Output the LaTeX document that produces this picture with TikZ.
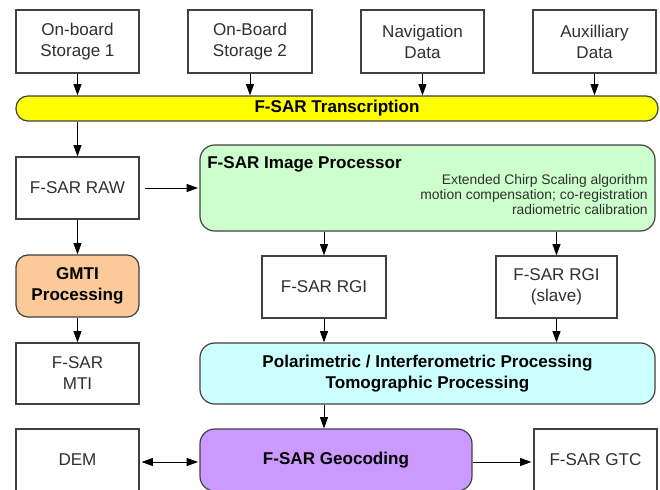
\documentclass[tikz,border=0pt]{standalone}
\usepackage{fontspec}
\setmainfont{Liberation Sans}
\usetikzlibrary{arrows.meta,calc}
\definecolor{bordc}{HTML}{404040}
\definecolor{textc}{HTML}{303030}
\definecolor{yelc}{HTML}{FFFF00}
\definecolor{grnc}{HTML}{CCFFCC}
\definecolor{orgc}{HTML}{FBCA98}
\definecolor{cync}{HTML}{CCFFFF}
\definecolor{purc}{HTML}{CC99FF}
\newcommand\fmain{\fontsize{12.8}{15.75}\selectfont}
\newcommand\fsmall{\fontsize{10.4}{11.25}\selectfont}
\begin{document}
\begin{tikzpicture}[x=0.75pt,y=-0.75pt,
  base/.style={draw=bordc, line width=0.9pt, inner sep=0pt, align=center, font=\fmain, text=textc},
  sz/.style 2 args={minimum width=#1*0.75pt, minimum height=#2*0.75pt},
  plain/.style={base, fill=white},
  boldtxt/.style={font=\fmain\bfseries, text=black},
  tip/.tip={Triangle[length=8.5pt,width=6pt]},
  arr/.style={-tip, line width=0.75pt, draw=black},
  darr/.style={tip-tip, line width=0.75pt, draw=black}]
\useasboundingbox (0,0) rectangle (660,489);
\clip (0,0) rectangle (660,489);
\fill[white] (0,0) rectangle (660,489);

\node[plain, sz={123}{63}] (ob1) at (77.5,41.5) {On-board\\Storage 1};
\node[plain, sz={124}{63}] (ob2) at (250,41.5) {On-Board\\Storage 2};
\node[plain, sz={123}{63}] (nav) at (422.5,41.5) {Navigation\\Data};
\node[plain, sz={123}{63}] (aux) at (594.5,41.5) {Auxilliary\\Data};
\node[base, fill=yelc, rounded corners=9pt, sz={642}{25}, boldtxt] (trans) at (337,108.5) {F-SAR Transcription};

\node[plain, sz={123}{62}] (raw) at (77.5,188) {F-SAR RAW};
\node[base, fill=grnc, rounded corners=11pt, sz={455}{86}] (proc) at (427.5,188) {};
\node[anchor=base west, inner sep=0pt, boldtxt] (proct) at (207,168) {F-SAR Image Processor};
\node[anchor=north east, align=right, inner sep=0pt, font=\fsmall, text=textc] (procs) at (648,174) {Extended Chirp Scaling algorithm\\motion compensation; co-registration\\radiometric calibration};

\node[base, fill=orgc, rounded corners=9pt, sz={123}{62}, boldtxt] (gmti) at (77.5,286) {GMTI\\Processing};
\node[plain, sz={124}{62}] (rgi) at (324,287) {F-SAR RGI};
\node[plain, sz={121}{62}] (rgis) at (556.5,287) {F-SAR RGI\\(slave)};

\node[plain, sz={123}{61}] (mti) at (77.5,373.5) {F-SAR\\MTI};
\node[base, fill=cync, rounded corners=11pt, sz={455}{61}, boldtxt] (pol) at (427.5,373.5) {Polarimetric / Interferometric Processing\\Tomographic Processing};

\node[plain, sz={123}{62}] (dem) at (77.5,460) {DEM};
\node[base, fill=purc, rounded corners=11pt, sz={272}{62}, boldtxt] (geo) at (336,460) {F-SAR Geocoding};
\node[plain, sz={123}{62}] (gtc) at (595.5,460) {F-SAR GTC};

\draw[arr] (ob1.south) -- (ob1.south |- trans.north);
\draw[arr] (ob2.south) -- (ob2.south |- trans.north);
\draw[arr] (nav.south) -- (nav.south |- trans.north);
\draw[arr] (aux.south) -- (aux.south |- trans.north);
\draw[arr] (trans.south -| raw.north) -- (raw.north);
\draw[arr, shorten <=3.75pt, shorten >=1pt] (raw.east) -- (proc.west |- raw.east);
\draw[arr] (raw.south) -- (gmti.north);
\draw[arr] (gmti.south) -- (mti.north);
\draw[arr] (proc.south -| rgi.north) -- (rgi.north);
\draw[arr] (proc.south -| rgis.north) -- (rgis.north);
\draw[arr] (rgi.south) -- (rgi.south |- pol.north);
\draw[arr] (rgis.south) -- (rgis.south |- pol.north);
\draw[arr] (pol.south -| rgi.south) -- (rgi.south |- geo.north);
\draw[darr, shorten <=1.5pt, shorten >=1pt] ([yshift=-1.5pt]dem.east) -- ([yshift=-1.5pt]geo.west);
\draw[arr, shorten >=1.5pt] ([yshift=-1.5pt]geo.east) -- ([yshift=-1.5pt]gtc.west);
\end{tikzpicture}
\end{document}
